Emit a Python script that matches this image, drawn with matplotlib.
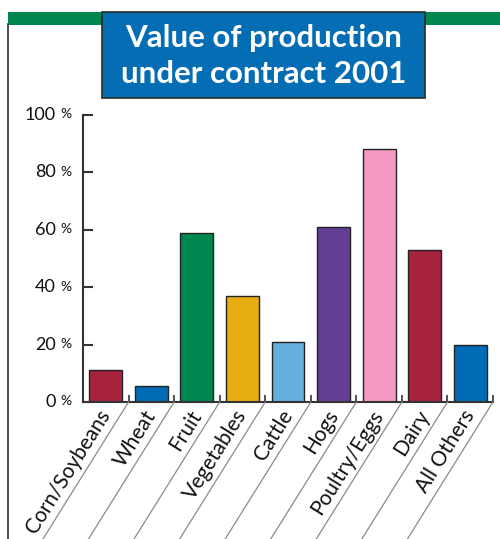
import numpy as np
import matplotlib
matplotlib.use('Agg')
import matplotlib.pyplot as plt
from matplotlib.lines import Line2D
from matplotlib.patches import Rectangle

plt.rcParams['font.family'] = ['Lato', 'DejaVu Sans']

# data
categories = ['Corn/Soybeans', 'Wheat', 'Fruit', 'Vegetables', 'Cattle',
              'Hogs', 'Poultry/Eggs', 'Dairy', 'All Others']
values = [11, 5.5, 59, 37, 21, 61, 88, 53, 20]
colors = ['#A6223D', '#006CB5', '#00874F', '#E7AE13', '#66AEDF',
          '#643F95', '#F49AC2', '#A6223D', '#006CB5']
yticks = [0, 20, 40, 60, 80, 100]
title_lines = ['Value of production', 'under contract 2001']

W, H = 500, 539
fig = plt.figure(figsize=(W / 100, H / 100), dpi=100)


def fx(px):
    return px / W


def fy(py):
    return 1 - py / H


# frame bits: green band, left border, title box
fig.add_artist(Rectangle((fx(8), fy(25)), fx(492), 13 / H, transform=fig.transFigure,
                         facecolor='#00874F', edgecolor='none'))
fig.add_artist(Line2D([fx(7.5), fx(7.5)], [fy(24), 0], transform=fig.transFigure,
                      color='#333333', lw=1.2))
fig.add_artist(Rectangle((fx(102), fy(98)), fx(323), 86 / H, transform=fig.transFigure,
                         facecolor='#046DB4', edgecolor='#2a2a2a', lw=1.2, zorder=3))
fig.text(fx(263.5), fy(47), title_lines[0], color='white', fontsize=22.5,
         fontweight='bold', ha='center', va='baseline', zorder=4)
fig.text(fx(263.5), fy(83), title_lines[1], color='white', fontsize=22.5,
         fontweight='bold', ha='center', va='baseline', zorder=4)

ax = fig.add_axes([fx(83), fy(402), fx(410), 287 / H])
x = np.arange(len(categories))
ax.bar(x, values, width=0.72, color=colors, edgecolor='#222222', linewidth=1.0, zorder=2)

ax.set_xlim(-0.5, len(categories) - 0.5)
ax.set_ylim(0, 100)
for s in ['top', 'right']:
    ax.spines[s].set_visible(False)
for s in ['left', 'bottom']:
    ax.spines[s].set_color('#333333')
    ax.spines[s].set_linewidth(1.5)

ax.set_yticks(yticks)
ax.set_yticklabels([])
ax.tick_params(axis='y', direction='in', length=7, width=1.5, color='#333333')
for v in yticks:
    ax.annotate(str(v), xy=(0, v), xycoords=('axes fraction', 'data'),
                xytext=(-19.5, 0), textcoords='offset points',
                ha='right', va='center', fontsize=13, color='#111111')
    ax.annotate('%', xy=(0, v), xycoords=('axes fraction', 'data'),
                xytext=(-16.5, 0.5), textcoords='offset points',
                ha='left', va='center', fontsize=10, color='#111111')

ax.set_xticks(x)
ax.set_xticklabels(categories, rotation=58, ha='right', va='center',
                   rotation_mode='anchor', fontsize=15, color='#111111')
ax.tick_params(axis='x', which='major', length=0, pad=7)
ax.set_xticks(x + 0.5, minor=True)
ax.tick_params(axis='x', which='minor', direction='in', length=5, width=1.2,
               color='#333333')

# diagonal guide lines from each boundary tick down-left
fig.canvas.draw()
ang = np.deg2rad(58)
inv = fig.transFigure.inverted()
for b in x + 0.5:
    x0, y0 = ax.transData.transform((b, 0))
    x1, y1 = x0 - y0 / np.tan(ang), 0
    p0 = inv.transform((x0, y0))
    p1 = inv.transform((x1, y1))
    fig.add_artist(Line2D([p0[0], p1[0]], [p0[1], p1[1]], transform=fig.transFigure,
                          color='#8a8a8a', lw=0.9, zorder=1))

fig.savefig('out.png', dpi=100)
